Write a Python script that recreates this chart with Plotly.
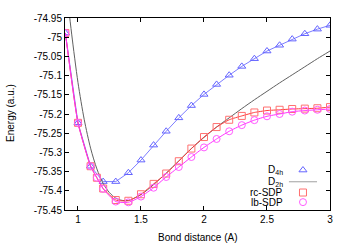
import plotly.graph_objects as go

# ---- data ----
x_d4h = [0.9, 1.0, 1.1, 1.2, 1.3, 1.4, 1.5, 1.6, 1.7, 1.8, 1.9, 2.0, 2.1, 2.2, 2.3, 2.4, 2.5, 2.6, 2.7, 2.8, 2.9, 3.0]
e_d4h = [-74.989, -75.223, -75.336, -75.376, -75.376, -75.353, -75.320, -75.281, -75.245, -75.210, -75.178,
         -75.149, -75.123, -75.099, -75.076, -75.056, -75.036, -75.021, -75.005, -74.991, -74.979, -74.969]

x_d2h = [0.92, 0.95, 1.0, 1.05, 1.1, 1.15, 1.2, 1.25, 1.3, 1.35, 1.4, 1.5, 1.6, 1.7, 1.8, 1.9, 2.0,
         2.1, 2.2, 2.3, 2.4, 2.5, 2.6, 2.7, 2.8, 2.9, 3.0]
e_d2h = [-74.907, -74.992, -75.118, -75.215, -75.289, -75.343, -75.381, -75.405, -75.419, -75.425, -75.425,
         -75.410, -75.384, -75.354, -75.322, -75.290, -75.261, -75.234, -75.210, -75.186, -75.163, -75.141,
         -75.119, -75.098, -75.077, -75.056, -75.036]

x_sdp = [0.9, 1.0, 1.1, 1.15, 1.2, 1.3, 1.4, 1.5, 1.6, 1.7, 1.8, 1.9, 2.0, 2.1, 2.2, 2.3, 2.4, 2.5, 2.6, 2.7, 2.8, 2.9, 3.0]
e_rc = [-74.989, -75.223, -75.336, -75.366, -75.394, -75.424, -75.426, -75.409, -75.382, -75.355, -75.323, -75.290,
        -75.260, -75.234, -75.215, -75.205, -75.196, -75.191, -75.189, -75.187, -75.186, -75.185, -75.182]
e_lb = [-74.989, -75.223, -75.336, -75.366, -75.395, -75.428, -75.430, -75.415, -75.392, -75.364, -75.338, -75.312,
        -75.287, -75.265, -75.245, -75.229, -75.216, -75.206, -75.200, -75.194, -75.191, -75.189, -75.187]

x_ticks = [1, 1.5, 2, 2.5, 3]
x_ticktext = ["1", "1.5", "2", "2.5", "3"]
y_ticks = [-74.95, -75.0, -75.05, -75.1, -75.15, -75.2, -75.25, -75.3, -75.35, -75.4, -75.45]
y_ticktext = ["-74.95", "-75", "-75.05", "-75.1", "-75.15", "-75.2", "-75.25", "-75.3", "-75.35", "-75.4", "-75.45"]

legend_names = ["D<sub>4h</sub>", "D<sub>2h</sub>", "rc-SDP", "lb-SDP"]

# ---- styles ----
C_TRI = "#6464ff"
C_TRI_LINE = "#7d7dff"
C_GRAY = "#606060"
C_SQ = "#ff7070"
C_SQ_LINE = "#ff3c3c"
C_CI = "#ff5cff"
C_CI_LINE = "#ff33ff"
FONT = "Liberation Sans, Arial, sans-serif"

fig = go.Figure()
fig.add_trace(go.Scatter(x=x_d4h, y=e_d4h, mode="lines+markers",
                         line=dict(color=C_TRI_LINE, width=1),
                         marker=dict(symbol="triangle-up-open", size=7, color=C_TRI, line=dict(width=1, color=C_TRI))))
fig.add_trace(go.Scatter(x=x_d2h, y=e_d2h, mode="lines", line=dict(color=C_GRAY, width=1, shape="spline", smoothing=0.8)))
fig.add_trace(go.Scatter(x=x_sdp, y=e_rc, mode="lines+markers",
                         line=dict(color=C_SQ_LINE, width=1, shape="spline", smoothing=0.5),
                         marker=dict(symbol="square-open", size=7, color=C_SQ, line=dict(width=1, color=C_SQ))))
fig.add_trace(go.Scatter(x=x_sdp, y=e_lb, mode="lines+markers",
                         line=dict(color=C_CI_LINE, width=1, shape="spline", smoothing=0.5),
                         marker=dict(symbol="circle-open", size=7, color=C_CI, line=dict(width=1, color=C_CI))))

# ---- manual legend (gnuplot style: text right, sample left) ----
leg_rows = [0.208, 0.147, 0.091, 0.041]
sym_x = 0.898
fig.add_trace(go.Scatter(x=[sym_x], y=[leg_rows[0]], xaxis="x2", yaxis="y2", mode="markers",
                         marker=dict(symbol="triangle-up-open", size=7, color=C_TRI, line=dict(width=1, color=C_TRI))))
fig.add_trace(go.Scatter(x=[0.845, 0.951], y=[leg_rows[1], leg_rows[1]], xaxis="x2", yaxis="y2", mode="lines",
                         line=dict(color="#a0a0a0", width=1)))
fig.add_trace(go.Scatter(x=[sym_x], y=[leg_rows[2]], xaxis="x2", yaxis="y2", mode="markers",
                         marker=dict(symbol="square-open", size=7, color=C_SQ, line=dict(width=1, color=C_SQ))))
fig.add_trace(go.Scatter(x=[sym_x], y=[leg_rows[3]], xaxis="x2", yaxis="y2", mode="markers",
                         marker=dict(symbol="circle-open", size=7, color=C_CI, line=dict(width=1, color=C_CI))))

annotations = []
for name, yy in zip(legend_names, leg_rows):
    annotations.append(dict(x=0.83, y=yy, xref="x2", yref="y2", text=name, showarrow=False,
                            xanchor="right", yanchor="middle", font=dict(size=10, color="#000", family=FONT)))
annotations.append(dict(x=0.5, y=0, xref="paper", yref="paper", yshift=-27, text="Bond distance (A)",
                        showarrow=False, xanchor="center", yanchor="middle", font=dict(size=10, color="#000", family=FONT)))
annotations.append(dict(x=-0.208, y=0.505, xref="paper", yref="paper", text="Energy (a.u.)", textangle=-90,
                        showarrow=False, xanchor="center", yanchor="middle", font=dict(size=10, color="#000", family=FONT)))

fig.update_layout(
    width=350, height=245,
    margin=dict(l=65, r=20, t=13, b=35),
    paper_bgcolor="white", plot_bgcolor="white",
    showlegend=False,
    font=dict(family=FONT, size=10, color="#000"),
    xaxis=dict(range=[0.897, 3.0], tickvals=x_ticks, ticktext=x_ticktext, ticks="inside", ticklen=4,
               tickcolor="#000", showline=True, linecolor="#000", linewidth=1, mirror="ticks",
               showgrid=False, zeroline=False, tickfont=dict(size=10, color="#000")),
    yaxis=dict(range=[-75.45, -74.95], tickvals=y_ticks, ticktext=y_ticktext, ticks="inside", ticklen=4,
               tickcolor="#000", showline=True, linecolor="#000", linewidth=1, mirror="ticks",
               showgrid=False, zeroline=False, tickfont=dict(size=10, color="#000")),
    xaxis2=dict(range=[0, 1], overlaying="x", visible=False, fixedrange=True),
    yaxis2=dict(range=[0, 1], overlaying="y", visible=False, fixedrange=True),
    annotations=annotations,
)

# remove the default 8px page margin so the 350x245 figure fills the window exactly
fig.write_html("out.html", config={"displayModeBar": False},
               post_script="document.body.style.margin='0';document.body.style.overflow='hidden';")
